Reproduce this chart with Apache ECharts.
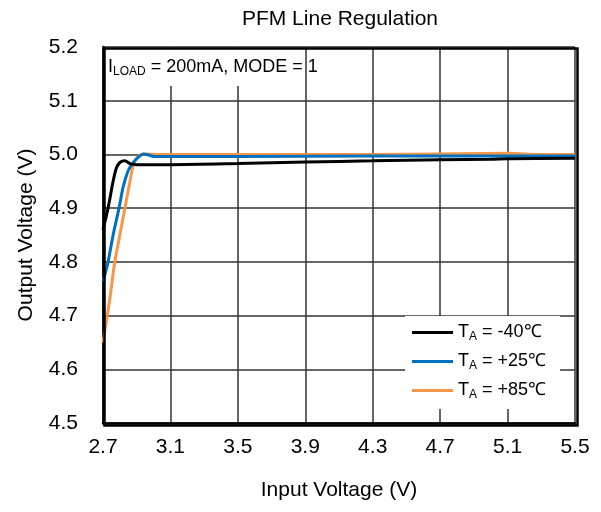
<!DOCTYPE html>
<html>
<head>
<meta charset="utf-8">
<script src="https://cdn.jsdelivr.net/npm/echarts@6/dist/echarts.min.js"></script>
<style>
  html, body { margin: 0; padding: 0; background: #fff; }
  #chart { width: 601px; height: 512px; }
</style>
</head>
<body>
<div id="chart"></div>
<script>
// input voltage (V) / output voltage (V)
const vinCold = [2.7, 2.73, 2.76, 2.78, 2.8, 2.83, 2.86, 2.9, 3.1, 3.5, 3.9, 4.3, 4.7, 5.0, 5.1, 5.5]
const voutCold = [4.86, 4.9, 4.95, 4.975, 4.985, 4.988, 4.983, 4.981, 4.981, 4.983, 4.986, 4.988, 4.99, 4.991, 4.992, 4.993]

const vinRoom = [2.7, 2.73, 2.76, 2.795, 2.82, 2.85, 2.88, 2.91, 2.94, 2.97, 3.0, 3.5, 4.3, 5.1, 5.5]
const voutRoom = [4.763, 4.8, 4.85, 4.9, 4.94, 4.97, 4.985, 4.995, 5.001, 4.999, 4.996, 4.996, 4.997, 4.997, 4.997]

const vinHot = [2.7, 2.74, 2.77, 2.8, 2.83, 2.86, 2.88, 2.9, 2.93, 2.96, 3.0, 3.5, 4.3, 5.1, 5.3, 5.5]
const voutHot = [4.65, 4.73, 4.8, 4.85, 4.9, 4.95, 4.98, 4.993, 5.0, 5.001, 5.0, 5.0, 5.0, 5.002, 5.0, 5.0]

const seriesNames = ['T_A = -40℃', 'T_A = +25℃', 'T_A = +85℃']
const legendTemps = [' = -40℃', ' = +25℃', ' = +85℃']
const colors = ['#000000', '#0070C0', '#F79646']

const pairs = (xs, ys) => xs.map((x, i) => [x, ys[i]])

const chart = echarts.init(document.getElementById('chart'))

const font = 'Liberation Sans, Arial, sans-serif'

const option = {
  backgroundColor: '#fff',
  animation: false,
  textStyle: { fontFamily: font, color: '#000' },
  title: {
    text: 'PFM Line Regulation',
    left: 335,
    top: 4,
    textAlign: 'center',
    textStyle: { fontSize: 21, fontWeight: 'normal', color: '#000', fontFamily: font }
  },
  grid: { left: 103, right: 26, top: 47, bottom: 89 },
  xAxis: {
    type: 'value',
    min: 2.7,
    max: 5.5,
    interval: 0.4,
    name: 'Input Voltage (V)',
    nameLocation: 'middle',
    nameGap: 57,
    nameTextStyle: { fontSize: 21, color: '#000' },
    axisLine: { onZero: false, lineStyle: { color: '#000', width: 2.5 } },
    axisTick: { show: false },
    axisLabel: { fontSize: 21, color: '#000', margin: 14, formatter: v => v.toFixed(1) },
    splitLine: { show: true, lineStyle: { color: '#333', width: 1.5 } }
  },
  yAxis: {
    type: 'value',
    min: 4.5,
    max: 5.2,
    interval: 0.1,
    name: 'Output Voltage (V)',
    nameLocation: 'middle',
    nameGap: 66,
    nameTextStyle: { fontSize: 21, color: '#000' },
    axisLine: { show: true, onZero: false, lineStyle: { color: '#000', width: 2.5 } },
    axisTick: { show: false },
    axisLabel: { fontSize: 21, color: '#000', margin: 25, formatter: v => v.toFixed(1) },
    splitLine: { show: true, lineStyle: { color: '#333', width: 1.5 } }
  },
  legend: {
    orient: 'vertical',
    left: 405,
    top: 316,
    itemWidth: 41,
    itemHeight: 3,
    itemGap: 8,
    icon: 'rect',
    padding: [6, 14, 8, 7],
    backgroundColor: '#fff',
    data: seriesNames,
    formatter: name => '{a|T}{s|A}{a|' + legendTemps[seriesNames.indexOf(name)] + '}',
    textStyle: {
      color: '#000',
      rich: {
        a: { fontSize: 18, color: '#000', fontFamily: font, lineHeight: 23 },
        s: { fontSize: 12, color: '#000', fontFamily: font, padding: [9, 0, 0, 0], lineHeight: 23 }
      }
    }
  },
  graphic: [
    {
      type: 'rect',
      left: 104,
      top: 48,
      shape: { width: 196, height: 38 },
      style: { fill: '#fff' },
      z: 10
    },
    {
      type: 'text',
      left: 108,
      top: 58,
      z: 11,
      style: {
        text: '{a|I}{s|LOAD}{a| = 200mA, MODE = 1}',
        rich: {
          a: { fontSize: 18, fill: '#000', fontFamily: font },
          s: { fontSize: 12, fill: '#000', fontFamily: font, padding: [9, 0, 0, 0] }
        }
      }
    },
    {
      type: 'rect',
      left: 102,
      top: 46,
      shape: { width: 473, height: 377 },
      style: { fill: 'none', stroke: '#000', lineWidth: 2.5 },
      z: 12,
      silent: true
    }
  ],
  series: [
    { name: seriesNames[0], data: pairs(vinCold, voutCold) },
    { name: seriesNames[1], data: pairs(vinRoom, voutRoom) },
    { name: seriesNames[2], data: pairs(vinHot, voutHot) }
  ].map((s, i) => ({
    ...s,
    type: 'line',
    smooth: 0.3,
    showSymbol: false,
    color: colors[i],
    lineStyle: { color: colors[i], width: 3 },
    z: 3 - i
  }))
}

chart.setOption(option)
</script>
</body>
</html>
